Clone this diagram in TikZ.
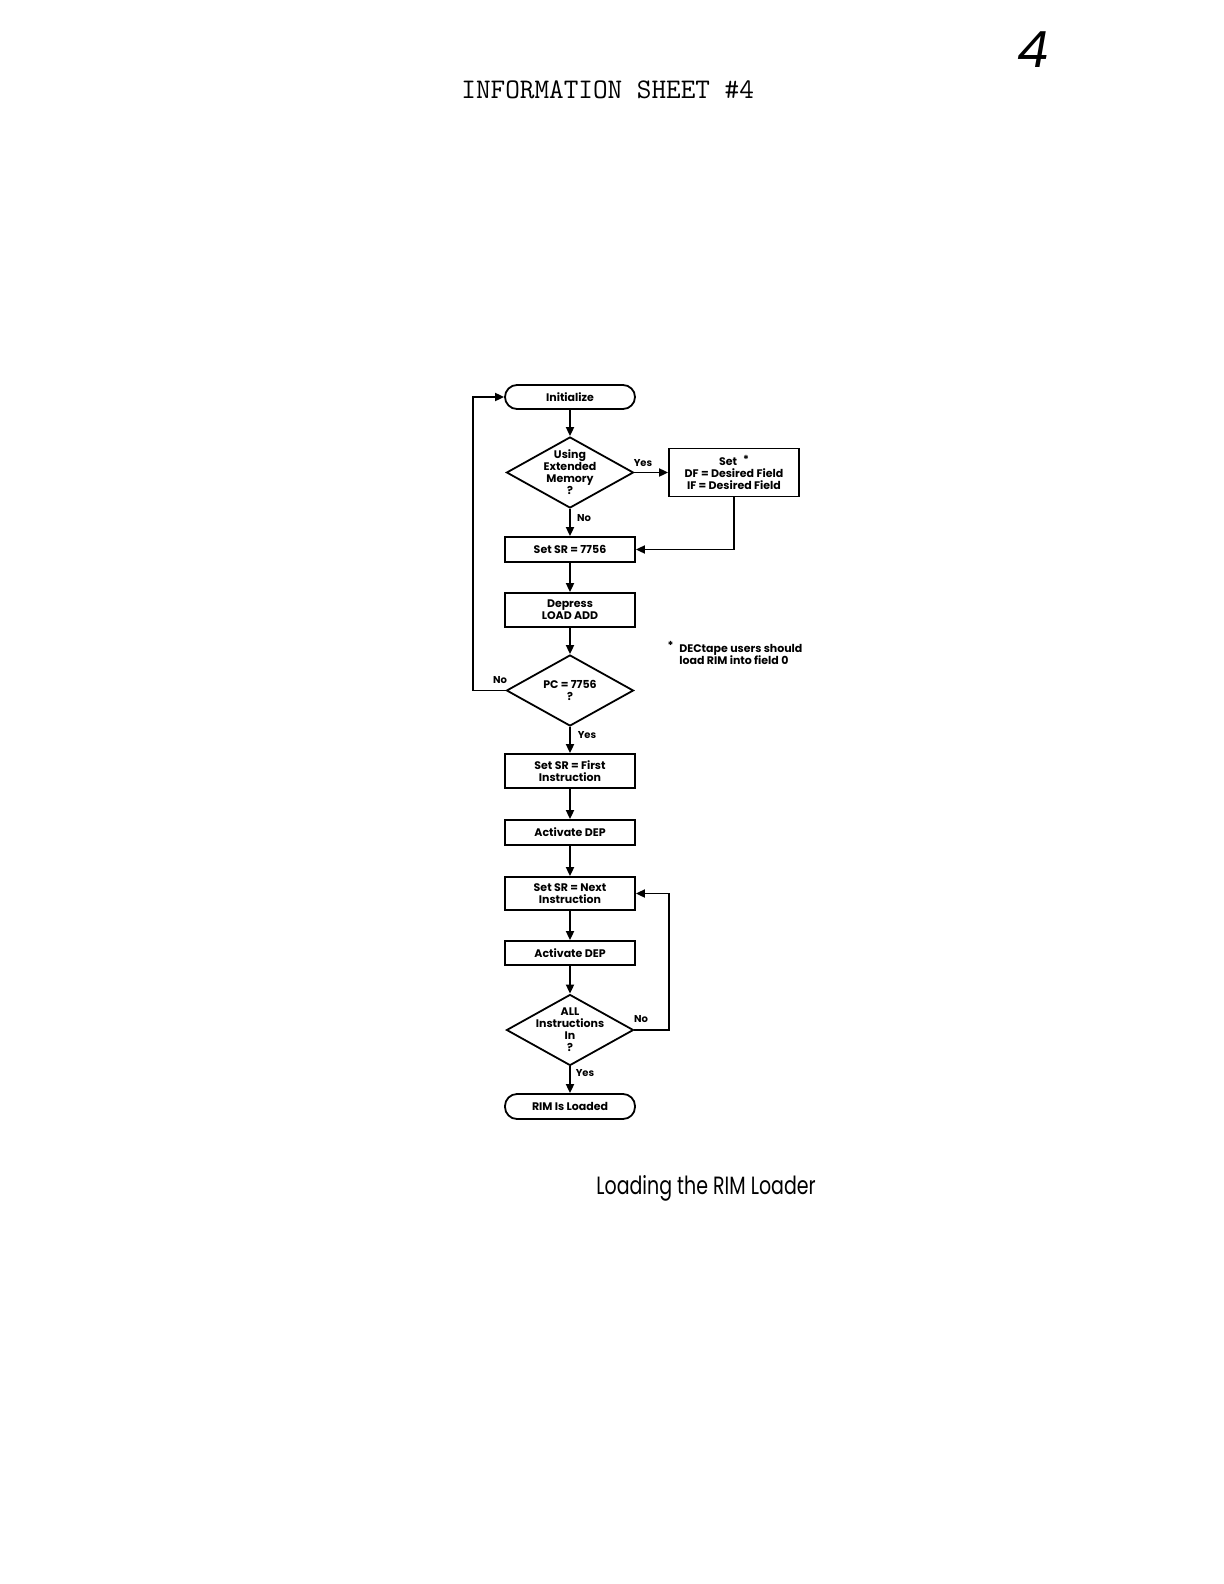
\documentclass[tikz,border=0pt]{standalone}
\usepackage{fontspec}
\setmainfont{Poppins}
\usetikzlibrary{arrows.meta,shapes.geometric}
\newcommand\flowfont{\fontsize{5.5pt}{6pt}\selectfont\bfseries}
\newcommand\ynfont{\fontsize{5pt}{5pt}\selectfont\bfseries}
\begin{document}
\begin{tikzpicture}[x=0.5pt,y=-0.5pt,
  every node/.style={inner sep=0pt},
  box/.style={draw, line width=0.9pt, minimum width=65pt, align=center, font=\flowfont},
  term/.style={box, rounded corners=6pt},
  dia/.style={draw, diamond, line width=0.9pt, minimum width=63.5pt, minimum height=35.5pt},
  lbl/.style={font=\flowfont, align=center},
  yn/.style={font=\ynfont},
  arr/.style={line width=0.9pt, -{Triangle[length=4.5pt,width=4pt]}},
]
\useasboundingbox[fill=white] (0,0) rectangle (1224,1584);

% headings
\node[anchor=base west, font=\ttfamily\fontsize{14.2pt}{14.5pt}\selectfont] (title) at (461,98) {INFORMATION SHEET \#4};
\node[font=\fontsize{25pt}{25pt}\selectfont\itshape] (pg) at (1033,50) {4};

% flowchart nodes
\node[term, minimum height=12pt] (init) at (570,397) {Initialize};
\node[dia, label={[lbl]center:{Using\\Extended\\Memory\\?}}] (d1) at (570,472.5) {};
\node[box, minimum height=24pt] (set) at (734,472.5) {Set\hspace{3pt}\raisebox{1pt}{*}\\DF = Desired Field\\IF = Desired Field};
\node[box, minimum height=12.5pt] (sr) at (570,549.5) {Set SR = 7756};
\node[box, minimum height=17pt] (dep) at (570,610) {Depress\\LOAD ADD};
\node[dia, label={[lbl]center:{PC = 7756\\?}}] (d2) at (570,690.5) {};
\node[box, minimum height=17pt] (first) at (570,771) {Set SR = First\\Instruction};
\node[box, minimum height=12.5pt] (act1) at (570,832.5) {Activate DEP};
\node[box, minimum height=16.5pt] (next) at (570,893.5) {Set SR = Next\\Instruction};
\node[box, minimum height=12pt] (act2) at (570,953) {Activate DEP};
\node[dia, label={[lbl]center:{ALL\\Instructions\\In\\?}}] (d3) at (570,1030) {};
\node[term, minimum height=12.5pt] (rim) at (570,1106.5) {RIM Is Loaded};

% footnote
\node[lbl, align=left, anchor=west] (fn) at (679,653) {\llap{\raisebox{1.5pt}{*}\hspace{3pt}}DECtape users should\\load RIM into field 0};

% branch labels
\node[yn] (y1) at (643,463) {Yes};
\node[yn] (n1) at (584,518) {No};
\node[yn] (n2) at (500,680) {No};
\node[yn] (y2) at (587,735) {Yes};
\node[yn] (n3) at (641,1019) {No};
\node[yn] (y3) at (585,1073) {Yes};

% connectors
\draw[arr] (init) -- (d1);
\draw[arr] (d1) -- (sr);
\draw[arr] (d1.east) -- (set.west);
\draw[arr] (set.south) |- (sr.east);
\draw[arr] (sr) -- (dep);
\draw[arr] (dep) -- (d2);
\draw[arr] (d2) -- (first);
\draw[arr] (first) -- (act1);
\draw[arr] (act1) -- (next);
\draw[arr] (next) -- (act2);
\draw[arr] (act2) -- (d3);
\draw[arr] (d3) -- (rim);
\coordinate (lc) at (473,690.5);
\draw[arr] (d2.west) -- (lc) |- (init.west);
\coordinate (rc) at (669,1030);
\draw[arr] (d3.east) -- (rc) |- (next.east);

% caption
\node[anchor=west, font=\fontsize{12.5pt}{12.5pt}\selectfont] (cap) at (596,1188) {\scalebox{0.76}[1]{Loading the RIM Loader}};
\end{tikzpicture}
\end{document}
